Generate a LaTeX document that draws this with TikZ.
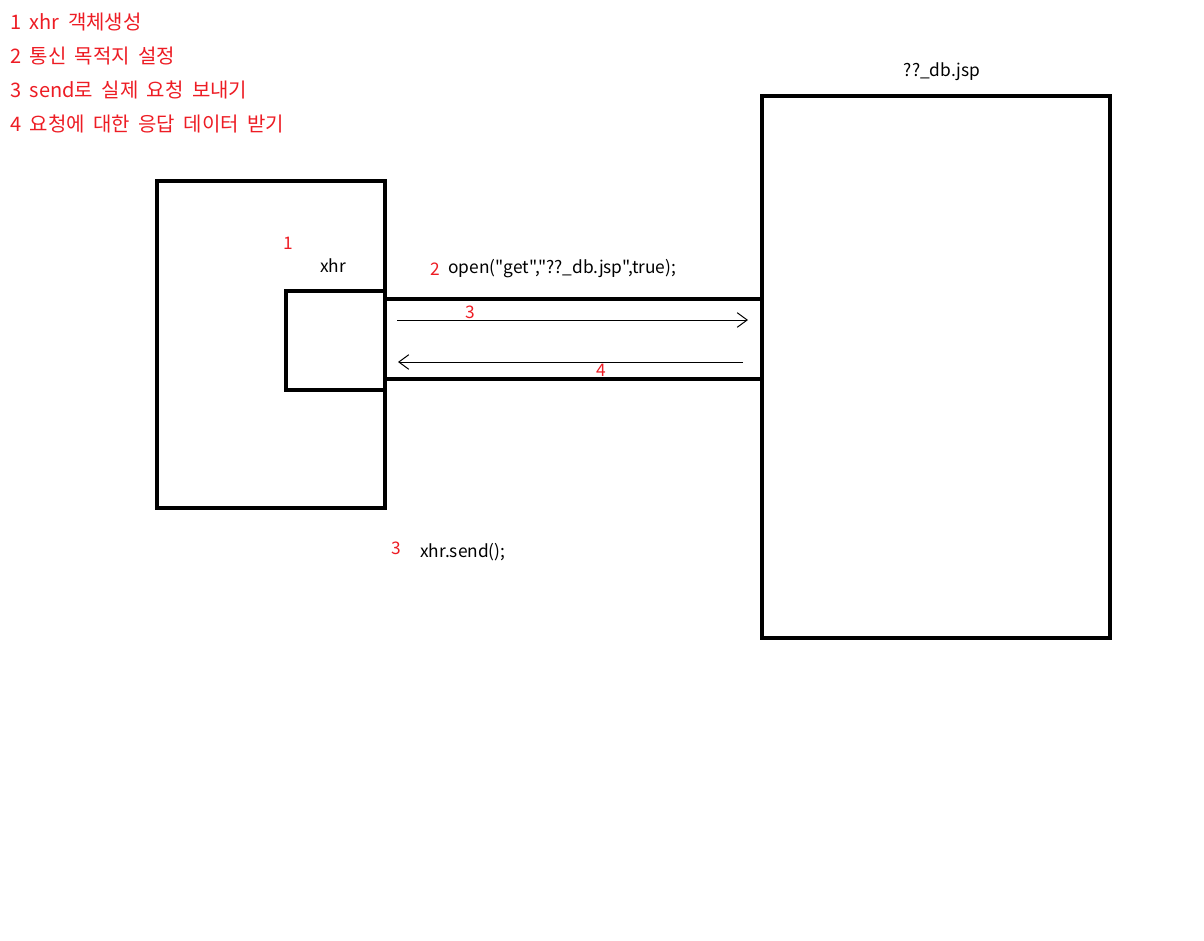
\documentclass[tikz,border=0pt]{standalone}
\usepackage{fontspec}
\setmainfont{Noto Sans CJK KR}
\newfontfamily\codefont[Ligatures=ResetAll]{Noto Sans CJK KR}
\usetikzlibrary{arrows.meta}
\definecolor{paintred}{RGB}{237,28,36}
\newcommand{\stepfont}{\fontsize{15}{18}\selectfont\spaceskip 6.3pt\relax}
\begin{document}
\begin{tikzpicture}[x=0.75pt,y=-0.75pt,
    box/.style={draw=black,line width=3pt,rectangle,inner sep=0pt},
    steplabel/.style={text=paintred,font=\stepfont,inner sep=0pt,anchor=west},
    redlabel/.style={text=paintred,font=\fontsize{13}{15}\selectfont,inner sep=0pt},
    blacklabel/.style={text=black,font=\codefont\fontsize{13}{15}\selectfont,inner sep=0pt},
    msg/.style={line width=0.75pt,-{Straight Barb[length=7.5pt,width=11pt,line width=0.75pt]}}]
  \useasboundingbox (0,0) rectangle (1204,940);
  % steps
  \begin{scope}[every node/.style={steplabel}]
    \node (s1) at (10,22) {1 xhr 객체생성};
    \node (s2) at (10,56) {2 통신 목적지 설정};
    \node (s3) at (10,90) {3 send로 실제 요청 보내기};
    \node (s4) at (10,124) {4 요청에 대한 응답 데이터 받기};
  \end{scope}
  % boxes
  \node[box,minimum width=171pt,minimum height=245.25pt] (client) at (271,344.5) {};
  \node[box,minimum width=74.25pt,minimum height=74.25pt] (xhr) at (335.5,340.5) {};
  \node[box,minimum width=261pt,minimum height=406.5pt] (server) at (936,367) {};
  % channel
  \draw[line width=3pt] (client.east |- 0,299) -- (server.west |- 0,299);
  \draw[line width=3pt] (client.east |- 0,379) -- (server.west |- 0,379);
  \coordinate (req0) at (397,320);
  \coordinate (req1) at (748,320);
  \coordinate (res0) at (743,362);
  \coordinate (res1) at (398,362);
  \draw[msg] (req0) -- (req1);
  \draw[msg] (res0) -- (res1);
  % labels
  \node[redlabel] (n1) at (288,243) {1};
  \node[blacklabel] (xhrlbl) at (333,266) {xhr};
  \node[redlabel] (n2) at (435,269) {2};
  \node[blacklabel,anchor=west] (open) at (448,269) {open("get","??\_db.jsp",true);};
  \node[redlabel] (n3) at (470,312) {3};
  \node[redlabel] (n4) at (601,370) {4};
  \node[redlabel] (n3b) at (396,548) {3};
  \node[blacklabel,anchor=west] (send) at (420,552) {xhr.send();};
  \node[blacklabel] (dbjsp) at (942,72) {??\_db.jsp};
\end{tikzpicture}
\end{document}
